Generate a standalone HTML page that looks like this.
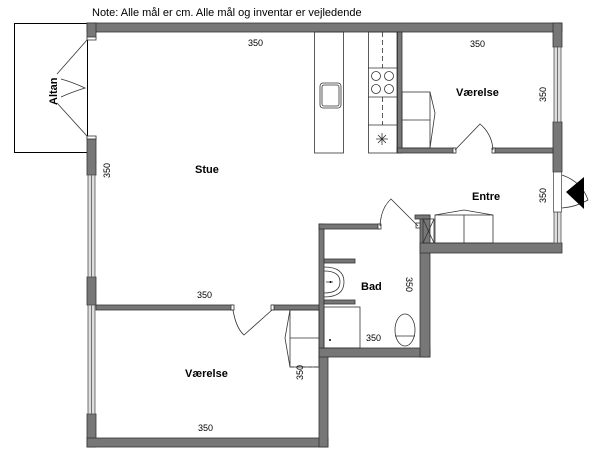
<!DOCTYPE html>
<html><head><meta charset="utf-8"><style>
html,body{margin:0;padding:0;background:#fff}
svg{display:block}
text{font-family:"Liberation Sans",sans-serif;fill:#000}
.d{font-size:9px}
.r{font-size:11px;font-weight:bold}
</style></head><body>
<svg width="600" height="460" viewBox="0 0 600 460" xmlns="http://www.w3.org/2000/svg">
<text x="92" y="16" font-size="11">Note: Alle mål er cm. Alle mål og inventar er vejledende</text>
<rect x="14.5" y="23.5" width="73" height="129" fill="none" stroke="#000" stroke-width="1"/>
<g fill="#777" stroke="#333" stroke-width="0.8">
<rect x="87" y="23" width="475" height="9"/>
<rect x="87" y="23" width="9" height="15"/>
<rect x="87" y="137" width="9" height="38"/>
<rect x="87" y="277" width="9" height="28"/>
<rect x="87" y="414" width="9" height="33"/>
<rect x="87" y="438" width="241" height="9"/>
<rect x="319" y="348" width="9" height="99"/>
<rect x="319" y="348" width="111" height="9"/>
<rect x="420" y="215" width="10" height="142"/>
<rect x="420" y="243" width="142" height="10"/>
<rect x="553" y="23" width="9" height="24"/>
<rect x="553" y="122" width="9" height="50"/>
<rect x="397" y="32" width="5" height="121"/>
<rect x="397" y="148" width="58" height="5"/>
<rect x="493" y="148" width="60" height="5"/>
<rect x="96" y="305" width="137" height="5"/>
<rect x="272" y="305" width="47" height="5"/>
<rect x="319" y="224" width="5" height="124"/>
<rect x="319" y="224" width="61" height="5"/>
<rect x="324" y="259" width="31" height="4"/>
<rect x="324" y="300" width="31" height="4"/>
<rect x="415" y="215" width="15" height="4"/>
</g>
<g fill="#ddd" stroke="#555" stroke-width="0.8">
<rect x="88" y="175" width="7" height="102"/>
<rect x="88" y="305" width="7" height="109"/>
<rect x="554" y="47" width="7" height="75"/>
<rect x="554" y="212" width="7" height="31"/>
</g>
<g stroke="#555" stroke-width="0.8">
<line x1="91.5" y1="175" x2="91.5" y2="277"/><line x1="91.5" y1="305" x2="91.5" y2="414"/>
<line x1="557.5" y1="47" x2="557.5" y2="122"/><line x1="557.5" y1="212" x2="557.5" y2="243"/>
</g>
<rect x="553.5" y="172" width="8" height="40" fill="#fff" stroke="#555" stroke-width="0.8"/>
<g fill="#fff" stroke="#333" stroke-width="0.8">
<rect x="87" y="37" width="9" height="3"/><rect x="87" y="136" width="9" height="3"/>
<rect x="453" y="148" width="3" height="5"/><rect x="492" y="148" width="3" height="5"/>
<rect x="231" y="305" width="3" height="5"/><rect x="271" y="305" width="3" height="5"/>
<rect x="378" y="224" width="3" height="5"/><rect x="416" y="223" width="4" height="5"/>
</g>
<g fill="none" stroke="#333" stroke-width="0.8">
<line x1="87" y1="40" x2="57" y2="74"/><line x1="87" y1="136" x2="57" y2="103"/>
<path d="M61 79 Q72 82 85 88 Q72 92 61 97"/>
<path d="M455 150 L480 124 Q492 134 493 150"/>
<path d="M233 310 Q236 328 244 335 L272 310"/>
<path d="M380 226 Q381 208 391 199 L418 226"/>
<path d="M562 175 Q582 182 588 200 Q576 207 562 208"/>
<rect x="314.5" y="32" width="29" height="121"/>
<rect x="320" y="83" width="21" height="25" rx="3"/>
<rect x="322" y="85" width="17" height="21" rx="2"/>
<rect x="368.5" y="32" width="29" height="121"/>
<line x1="368" y1="68" x2="397" y2="68"/><line x1="368" y1="97" x2="397" y2="97"/><line x1="368" y1="125" x2="397" y2="125"/>
<line x1="382.5" y1="32" x2="382.5" y2="68" stroke-dasharray="5,3"/>
<line x1="382.5" y1="97" x2="382.5" y2="125" stroke-dasharray="5,3"/>
<circle cx="376" cy="76" r="4.5"/><circle cx="389" cy="76" r="4.5"/><circle cx="376" cy="89" r="4.5"/><circle cx="389" cy="89" r="4.5"/>
<path d="M376 139 H388 M382 133 V145 M378 135 L386 143 M386 135 L378 143"/>
<rect x="402" y="92" width="28" height="56"/><line x1="402" y1="120" x2="430" y2="120"/>
<path d="M430 92 L435 113 L430 148"/>
<rect x="435" y="215" width="58" height="28"/><line x1="464" y1="215" x2="464" y2="243"/>
<path d="M435 215 L464 210 L493 215"/>
<rect x="423" y="219" width="11" height="24"/><path d="M423 219 L434 243 M434 219 L423 243"/>
<path d="M324 267 Q344 267 344 282 Q344 297 324 297"/>
<path d="M324 271 Q340 271 340 282 Q340 293 324 293"/>
<line x1="326" y1="282" x2="333" y2="282"/>
<rect x="324" y="307" width="36" height="41"/>
<ellipse cx="405" cy="330" rx="10" ry="16"/>
<line x1="395" y1="336" x2="415" y2="336"/>
<rect x="290" y="310" width="29" height="57"/><line x1="290" y1="338" x2="319" y2="338"/>
<path d="M290 310 L285 338 L290 367"/>
<line x1="290" y1="367" x2="319" y2="367" stroke-dasharray="4,2"/>
</g>
<circle cx="330" cy="340" r="1" fill="#000"/>
<circle cx="330.5" cy="282" r="1" fill="#000"/>
<polygon points="566,192 584,177 584,209" fill="#000"/>
<text class="r" x="195" y="173">Stue</text>
<text class="r" x="456" y="96">Værelse</text>
<text class="r" x="472" y="200">Entre</text>
<text class="r" x="361" y="290">Bad</text>
<text class="r" x="185" y="377">Værelse</text>
<text class="r" transform="translate(57,105) rotate(-90)">Altan</text>
<g class="d">
<text x="248" y="46">350</text>
<text x="470" y="47">350</text>
<text x="197" y="298">350</text>
<text x="198" y="431">350</text>
<text x="366" y="341">350</text>
<text transform="translate(110,178) rotate(-90)">350</text>
<text transform="translate(546,102) rotate(-90)">350</text>
<text transform="translate(546,203) rotate(-90)">350</text>
<text transform="translate(406,277) rotate(90)">350</text>
<text transform="translate(303,380) rotate(-90)">350</text>
</g>
</svg>
</body></html>
